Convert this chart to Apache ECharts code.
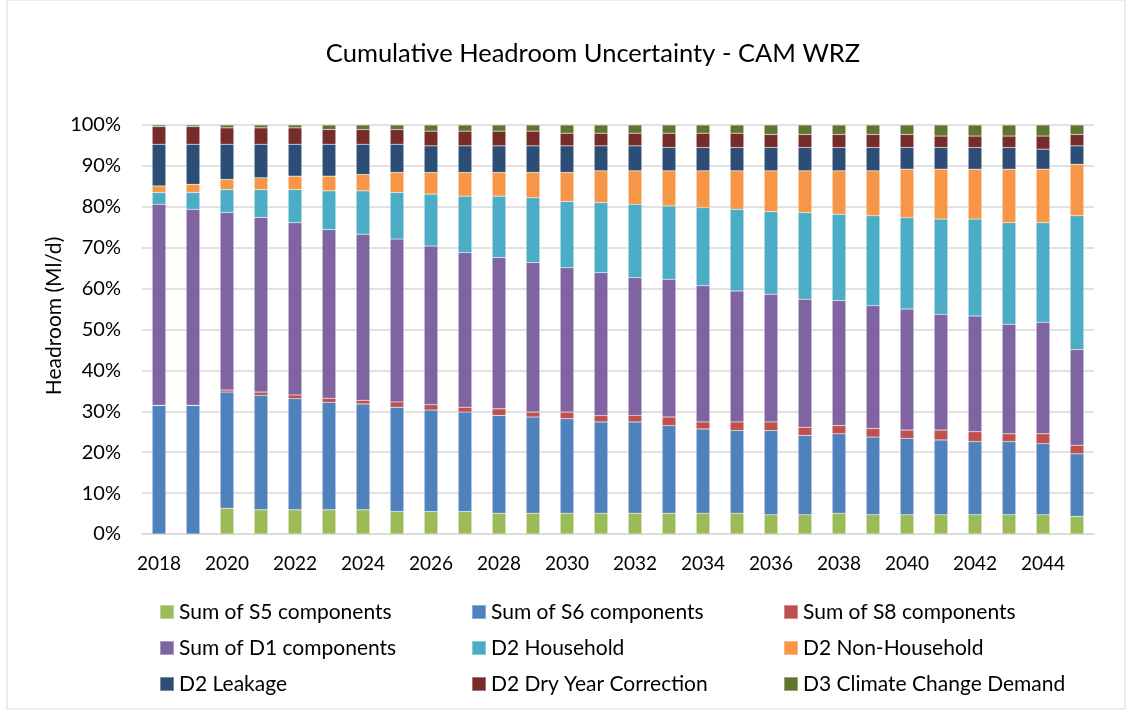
<!DOCTYPE html>
<html>
<head>
<meta charset="utf-8">
<script src="https://cdn.jsdelivr.net/npm/echarts@6/dist/echarts.min.js"></script>
<style>
  html, body { margin: 0; padding: 0; background: #fff; }
  #main { width: 1127px; height: 711px; }
</style>
</head>
<body>
<div id="main"></div>
<script>
// years on the x axis
var years = [];
for (var y = 2018; y <= 2045; y++) years.push(String(y));

// share of headroom per component (%)
var s5 = [0, 0, 6.3, 5.9, 5.9, 5.9, 5.9, 5.5, 5.5, 5.5, 5.1, 5.1, 5.1, 5.1, 5.1, 5.1, 5.1, 5.1, 4.7, 4.7, 5.1, 4.7, 4.7, 4.7, 4.7, 4.7, 4.7, 4.3];
var s6 = [31.4, 31.4, 28.4, 28.0, 27.2, 26.3, 25.9, 25.5, 24.8, 24.3, 23.9, 23.5, 23.1, 22.3, 22.3, 21.4, 20.6, 20.2, 20.6, 19.4, 19.4, 19.0, 18.7, 18.3, 17.9, 17.9, 17.4, 15.3];
var s8 = [0.1, 0.1, 0.5, 0.8, 0.9, 1.0, 0.9, 1.3, 1.3, 1.2, 1.6, 1.2, 1.6, 1.6, 1.6, 2.1, 1.7, 2.1, 2.1, 2.0, 2.0, 2.1, 2.0, 2.4, 2.4, 1.9, 2.4, 2.1];
var d1 = [49.1, 47.9, 43.4, 42.7, 42.1, 41.2, 40.6, 39.8, 38.8, 37.8, 37.0, 36.6, 35.3, 34.9, 33.7, 33.7, 33.3, 32.0, 31.2, 31.3, 30.6, 30.0, 29.6, 28.3, 28.3, 26.8, 27.3, 23.4];
var household = [2.9, 4.1, 5.6, 6.8, 8.1, 9.5, 10.6, 11.4, 12.7, 13.8, 15.0, 15.8, 16.2, 17.1, 17.9, 17.9, 19.1, 20.0, 20.2, 21.2, 21.1, 22.0, 22.3, 23.3, 23.7, 24.8, 24.3, 32.7];
var nonHousehold = [1.6, 2.0, 2.5, 2.9, 3.3, 3.6, 4.0, 4.9, 5.3, 5.8, 5.8, 6.2, 7.1, 7.8, 8.2, 8.6, 9.0, 9.4, 10.0, 10.2, 10.6, 11.0, 11.9, 12.2, 12.2, 13.1, 13.1, 12.6];
var leakage = [10.2, 9.8, 8.6, 8.2, 7.8, 7.8, 7.4, 6.9, 6.5, 6.5, 6.5, 6.5, 6.5, 6.1, 6.1, 5.7, 5.7, 5.7, 5.7, 5.7, 5.7, 5.7, 5.3, 5.3, 5.3, 5.3, 4.9, 4.5];
var dryYear = [4.3, 4.3, 4.0, 4.0, 4.0, 3.6, 3.6, 3.6, 3.6, 3.6, 3.6, 3.6, 3.1, 3.1, 3.1, 3.5, 3.5, 3.5, 3.2, 3.2, 3.2, 3.2, 3.2, 2.8, 2.8, 2.8, 3.2, 2.8];
var climate = [0.4, 0.4, 0.7, 0.7, 0.7, 1.1, 1.1, 1.1, 1.5, 1.5, 1.5, 1.5, 2.0, 2.0, 2.0, 2.0, 2.0, 2.0, 2.3, 2.3, 2.3, 2.3, 2.3, 2.7, 2.7, 2.7, 2.7, 2.3];

var yTicks = ["0%", "10%", "20%", "30%", "40%", "50%", "60%", "70%", "80%", "90%", "100%"];

var seriesList = [
  { name: "Sum of S5 components", data: s5, color: "#9BBB59" },
  { name: "Sum of S6 components", data: s6, color: "#4F81BD" },
  { name: "Sum of S8 components", data: s8, color: "#C0504D" },
  { name: "Sum of D1 components", data: d1, color: "#8064A2" },
  { name: "D2 Household", data: household, color: "#4BACC6" },
  { name: "D2 Non-Household", data: nonHousehold, color: "#F79646" },
  { name: "D2 Leakage", data: leakage, color: "#2C4D75" },
  { name: "D2 Dry Year Correction", data: dryYear, color: "#772C2A" },
  { name: "D3 Climate Change Demand", data: climate, color: "#5F7530" }
];

var font = "Lato, 'Open Sans', sans-serif";

// one vertical legend per column, 3 rows each
function legendCol(left, names) {
  return {
    orient: "vertical",
    left: left,
    top: 601,
    height: 130,
    padding: 0,
    itemWidth: 14,
    itemHeight: 14,
    itemGap: 14,
    icon: "rect",
    textStyle: { fontFamily: font, fontSize: 21, lineHeight: 22, color: "#000" },
    data: names
  };
}

var chart = echarts.init(document.getElementById("main"));
chart.setOption({
  animation: false,
  title: {
    text: "Cumulative Headroom Uncertainty - CAM WRZ",
    left: 588,
    textAlign: "center",
    top: 36,
    textStyle: { fontFamily: font, fontSize: 25.5, fontWeight: "normal", color: "#000" }
  },
  graphic: [
    {
      type: "rect",
      shape: { x: 7, y: 0, width: 1118, height: 709 },
      style: { fill: "none", stroke: "#d9d9d9", lineWidth: 1 },
      silent: true
    },
    {
      type: "text",
      x: 54,
      y: 316,
      rotation: Math.PI / 2,
      style: {
        text: "Headroom (Ml/d)",
        font: "21px " + font,
        fill: "#000",
        align: "center",
        verticalAlign: "middle"
      },
      silent: true
    }
  ],
  legend: [
    legendCol(159, [seriesList[0].name, seriesList[3].name, seriesList[6].name]),
    legendCol(471, [seriesList[1].name, seriesList[4].name, seriesList[7].name]),
    legendCol(783, [seriesList[2].name, seriesList[5].name, seriesList[8].name])
  ],
  grid: { left: 142, right: 33, top: 125, bottom: 177 },
  xAxis: {
    type: "category",
    data: years,
    axisTick: { show: false },
    axisLine: { lineStyle: { color: "#d9d9d9", width: 1.5 } },
    axisLabel: { interval: 1, fontFamily: font, fontSize: 19, color: "#000", margin: 20 }
  },
  yAxis: {
    type: "value",
    min: 0,
    max: 100,
    interval: 10,
    axisLine: { show: false },
    axisTick: { show: false },
    splitLine: { lineStyle: { color: "#d9d9d9", width: 1.5 } },
    axisLabel: {
      fontFamily: font, fontSize: 20, color: "#000", margin: 21,
      formatter: function (v) { return yTicks[Math.round(v / 10)]; }
    }
  },
  series: seriesList.map(function (s) {
    return {
      name: s.name,
      type: "bar",
      stack: "total",
      barWidth: "40%",
      data: s.data,
      itemStyle: { color: s.color, borderColor: "rgba(255,255,255,0.35)", borderWidth: 0.5 }
    };
  })
});
</script>
</body>
</html>
